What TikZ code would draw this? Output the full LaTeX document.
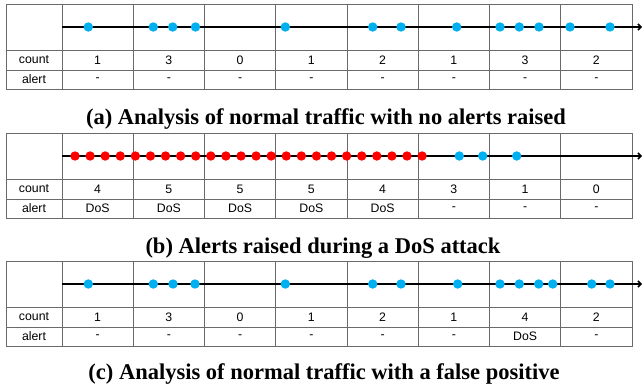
\documentclass[tikz,border=0pt]{standalone}
\usepackage{fontspec}
\setmainfont{Liberation Serif}
\newfontfamily\cellfont{Liberation Sans}
\usetikzlibrary{arrows.meta}
\definecolor{evblue}{HTML}{00B0F0}
\definecolor{gridgray}{HTML}{6A6A6A}

% One window table: #1 top edge, #2 name prefix, #3 counts, #4 alerts
\newcommand\windowtable[4]{%
  \begin{scope}[yshift=-#1pt]
    \draw[grid] (6,0) rectangle (632,85);
    \draw[grid] (6,46) -- (632,46);
    \draw[grid] (6,66) -- (632,66);
    \foreach \k in {0,...,7}
      \draw[grid] ({62+71.25*\k},0) -- ({62+71.25*\k},85);
    \node[cell] (#2-lc) at (34,56) {count};
    \node[cell] (#2-la) at (34,75.5) {alert};
    \foreach \c [count=\i from 0] in {#3}
      \node[cell] (#2-c\i) at ({62+71.25*(\i+0.5)},56) {\c};
    \foreach \c [count=\i from 0] in {#4}
      \node[cell] (#2-a\i) at ({62+71.25*(\i+0.5)},75.5) {\c};
    \coordinate (#2-s) at (62,23);
    \coordinate (#2-e) at (642,23);
    \draw[timeline] (#2-s) -- (#2-e);
  \end{scope}}

\begin{document}
\begin{tikzpicture}[x=1pt,y=-1pt,
  grid/.style={draw=gridgray,line width=0.9pt},
  timeline/.style={draw=black,line width=1.5pt,-{Straight Barb[length=3pt,width=6pt]}},
  ev/.style={circle,fill=evblue,draw=none,inner sep=0pt,minimum size=9.4pt},
  dos/.style={ev,fill=red},
  cell/.style={font=\cellfont\fontsize{12.3}{13}\selectfont,inner sep=0pt,anchor=center},
  caption/.style={font=\bfseries\fontsize{22.5}{26}\selectfont,inner sep=0pt}]
\useasboundingbox (0,0) rectangle (642,387);

% (a) normal traffic
\windowtable{4}{a}{1,3,0,1,2,1,3,2}{-,-,-,-,-,-,-,-}
\begin{scope}[yshift=-4pt]
  \foreach \x [count=\n] in {88.3,153.3,172.7,195.5,285.3,372.7,401,456.7,500,519.3,539,570,610}
    \node[ev] (a-d\n) at (\x,23) {};
\end{scope}
\node[caption] (capa) at (326,119) {(a) Analysis of normal traffic with no alerts raised};

% (b) DoS attack
\windowtable{133}{b}{4,5,5,5,4,3,1,0}{DoS,DoS,DoS,DoS,DoS,-,-,-}
\begin{scope}[yshift=-133pt]
  \foreach \k in {0,...,23}
    \node[dos] (b-r\k) at ({75+15.09*\k},23) {};
  \foreach \x [count=\n] in {459.3,482.7,516.7}
    \node[ev] (b-d\n) at (\x,23) {};
\end{scope}
\node[caption] (capb) at (323,248) {(b) Alerts raised during a DoS attack};

% (c) false positive
\windowtable{261}{c}{1,3,0,1,2,1,4,2}{-,-,-,-,-,-,DoS,-}
\begin{scope}[yshift=-261pt]
  \foreach \x [count=\n] in {88.3,153.3,173,195,285.3,372.7,401,457.7,500,519.3,538.7,552.7,591.7,610}
    \node[ev] (c-d\n) at (\x,23) {};
\end{scope}
\node[caption] (capc) at (324,374) {(c) Analysis of normal traffic with a false positive};
\end{tikzpicture}
\end{document}
